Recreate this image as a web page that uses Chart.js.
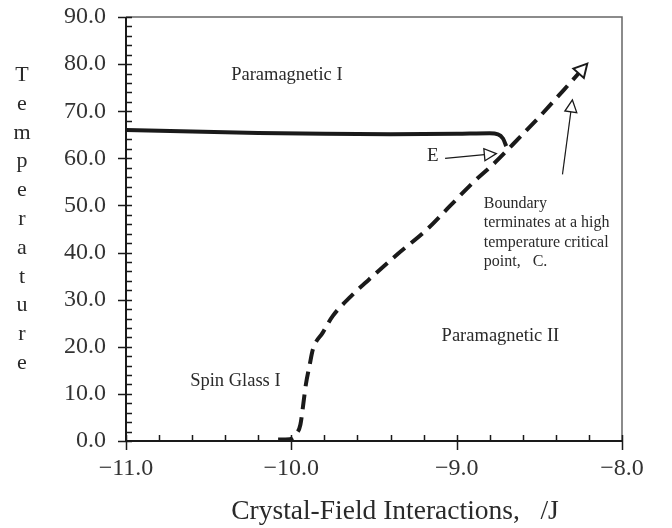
<!DOCTYPE html>
<html>
<head>
<meta charset="utf-8">
<script src="https://cdn.jsdelivr.net/npm/chart.js@4.4.1/dist/chart.umd.min.js"></script>
<style>
  html, body { margin: 0; padding: 0; background: #fff; }
  #wrap { width: 672px; height: 528px; }
</style>
</head>
<body>
<div id="wrap"><canvas id="phaseChart" width="672" height="528"></canvas></div>
<script>
// solid boundary between Paramagnetic I and Spin Glass I
const solidX = [-11.0, -10.6, -10.2, -9.8, -9.4, -9.0, -8.8, -8.75, -8.72, -8.70];
const solidT = [66.0, 65.7, 65.4, 65.2, 65.1, 65.2, 65.3, 65.1, 64.2, 62.6];

// dashed boundary, ends at the critical point C
const dashX = [-10.08, -10.01, -9.97, -9.945, -9.927, -9.912, -9.89, -9.87, -9.81, -9.75, -9.64, -9.53, -9.36, -9.18, -9.04, -8.90, -8.78, -8.67, -8.50, -8.35, -8.21];
const dashT = [0.3, 0.4, 1.5, 3.5, 8.0, 12.0, 16.0, 19.4, 23.0, 26.5, 30.7, 34.3, 39.6, 44.9, 49.9, 54.9, 58.7, 62.6, 68.8, 74.6, 80.1];

const xTicks = [-11, -10, -9, -8];
const xTickText = ['\u221211.0', '\u221210.0', '\u22129.0', '\u22128.0'];
const yTicks = [0, 10, 20, 30, 40, 50, 60, 70, 80, 90];
const yTickText = ['0.0', '10.0', '20.0', '30.0', '40.0', '50.0', '60.0', '70.0', '80.0', '90.0'];

const yTitleText = 'Temperature';
const xTitleText = 'Crystal-Field Interactions,   /J';
const regionLabels = ['Paramagnetic I', 'Spin Glass I', 'Paramagnetic II'];
const pointLabel = 'E';
const noteLines = ['Boundary', 'terminates at a high', 'temperature critical', 'point,   C.'];

const serif = '"Liberation Serif", "Times New Roman", serif';
const ink = '#1a1a1a';

function toPts(xs, ys) {
  return xs.map((x, i) => ({ x: x, y: ys[i] }));
}

function openHead(ctx, x0, y0, x1, y1, len, half, lw) {
  const a = Math.atan2(y1 - y0, x1 - x0);
  ctx.save();
  ctx.translate(x1, y1);
  ctx.rotate(a);
  ctx.beginPath();
  ctx.moveTo(0, 0);
  ctx.lineTo(-len, -half);
  ctx.lineTo(-len, half);
  ctx.closePath();
  ctx.fillStyle = '#fff';
  ctx.fill();
  ctx.lineWidth = lw;
  ctx.strokeStyle = ink;
  ctx.stroke();
  ctx.restore();
}

function thinArrow(ctx, x0, y0, x1, y1) {
  const a = Math.atan2(y1 - y0, x1 - x0);
  const len = 12;
  ctx.save();
  ctx.strokeStyle = ink;
  ctx.lineWidth = 1.2;
  ctx.beginPath();
  ctx.moveTo(x0, y0);
  ctx.lineTo(x1 - len * Math.cos(a), y1 - len * Math.sin(a));
  ctx.stroke();
  ctx.restore();
  openHead(ctx, x0, y0, x1, y1, len, 6, 1.3);
}

// frame, ticks and all the labels drawn on top
const decorations = {
  id: 'decorations',
  afterDraw(chart) {
    const ctx = chart.ctx;
    const xs = chart.scales.x, ys = chart.scales.y;
    const { left, right, top, bottom } = chart.chartArea;
    const px = v => xs.getPixelForValue(v);
    const py = v => ys.getPixelForValue(v);

    ctx.save();
    // top and right edges in grey
    ctx.strokeStyle = '#666';
    ctx.lineWidth = 1.5;
    ctx.beginPath();
    ctx.moveTo(left, top); ctx.lineTo(right, top); ctx.lineTo(right, bottom);
    ctx.stroke();

    // axes
    ctx.strokeStyle = ink;
    ctx.lineWidth = 2;
    ctx.beginPath();
    ctx.moveTo(left, top); ctx.lineTo(left, bottom); ctx.lineTo(right, bottom);
    ctx.stroke();

    // tick marks: minor inside, major crossing the axis
    ctx.lineWidth = 1.5;
    ctx.beginPath();
    for (let i = 0; i <= 15; i++) {
      const v = -11 + i * 0.2;
      const x = Math.round(px(v)) + 0.5;
      const major = i % 5 === 0;
      ctx.moveTo(x, bottom - 6);
      ctx.lineTo(x, major ? bottom + 9 : bottom);
    }
    for (let i = 0; i <= 45; i++) {
      const v = i * 2;
      const y = Math.round(py(v)) + 0.5;
      const major = i % 5 === 0;
      ctx.moveTo(major ? left - 8 : left, y);
      ctx.lineTo(left + 6, y);
    }
    ctx.stroke();

    // arrowhead at the end of the dashed boundary
    const n = dashX.length;
    openHead(ctx, px(dashX[n - 2]), py(dashT[n - 2]), px(dashX[n - 1]), py(dashT[n - 1]), 13, 7, 2);

    // pointer arrows
    thinArrow(ctx, px(-9.07), py(60.0), px(-8.76), py(61.0));
    thinArrow(ctx, px(-8.36), py(56.6), px(-8.30), py(72.4));

    ctx.fillStyle = '#2a2a2a';
    ctx.textBaseline = 'middle';
    ctx.textAlign = 'left';
    ctx.font = '18.5px ' + serif;
    ctx.fillText(regionLabels[0], px(-10.364), py(77.6));
    ctx.fillText(regionLabels[1], px(-10.612), py(12.8));
    ctx.fillText(regionLabels[2], px(-9.091), py(22.2));
    ctx.font = '19px ' + serif;
    ctx.fillText(pointLabel, px(-9.18), py(60.4));

    ctx.font = '16px ' + serif;
    noteLines.forEach((s, i) => ctx.fillText(s, px(-8.836), py(50.4) + i * 19.5));

    // vertical stacked axis title
    ctx.textAlign = 'center';
    ctx.textBaseline = 'alphabetic';
    ctx.font = '22px ' + serif;
    yTitleText.split('').forEach((ch, i) => ctx.fillText(ch, 22, 81 + i * 28.8));

    ctx.textBaseline = 'middle';
    ctx.font = '27.5px ' + serif;
    ctx.fillText(xTitleText, 395, 512);
    ctx.restore();
  }
};

new Chart(document.getElementById('phaseChart'), {
  type: 'scatter',
  data: {
    datasets: [
      {
        label: 'solid',
        data: toPts(solidX, solidT),
        showLine: true,
        borderColor: ink,
        borderWidth: 4,
        pointRadius: 0,
        cubicInterpolationMode: 'monotone'
      },
      {
        label: 'dashed',
        data: toPts(dashX, dashT),
        showLine: true,
        borderColor: ink,
        borderWidth: 4,
        borderDash: [15, 8],
        pointRadius: 0,
        cubicInterpolationMode: 'monotone'
      }
    ]
  },
  options: {
    responsive: false,
    animation: false,
    layout: { padding: { left: 0, top: 0, right: 50, bottom: 0 } },
    plugins: { legend: { display: false }, tooltip: { enabled: false } },
    scales: {
      x: {
        type: 'linear',
        min: -11,
        max: -8,
        afterBuildTicks: s => { s.ticks = xTicks.map(v => ({ value: v })); },
        afterFit: s => { s.height = 87; },
        grid: { display: false, drawTicks: false },
        border: { display: false },
        ticks: {
          padding: 13,
          color: '#333',
          font: { family: serif, size: 24 },
          callback: (v, i) => xTickText[i]
        }
      },
      y: {
        type: 'linear',
        min: 0,
        max: 90,
        afterBuildTicks: s => { s.ticks = yTicks.map(v => ({ value: v })); },
        afterFit: s => { s.width = 126; s.paddingTop = 17; s.paddingBottom = 0; },
        grid: { display: false, drawTicks: false },
        border: { display: false },
        ticks: {
          padding: 20,
          color: '#333',
          font: { family: serif, size: 24 },
          callback: (v, i) => yTickText[i]
        }
      }
    }
  },
  plugins: [decorations]
});
</script>
</body>
</html>
